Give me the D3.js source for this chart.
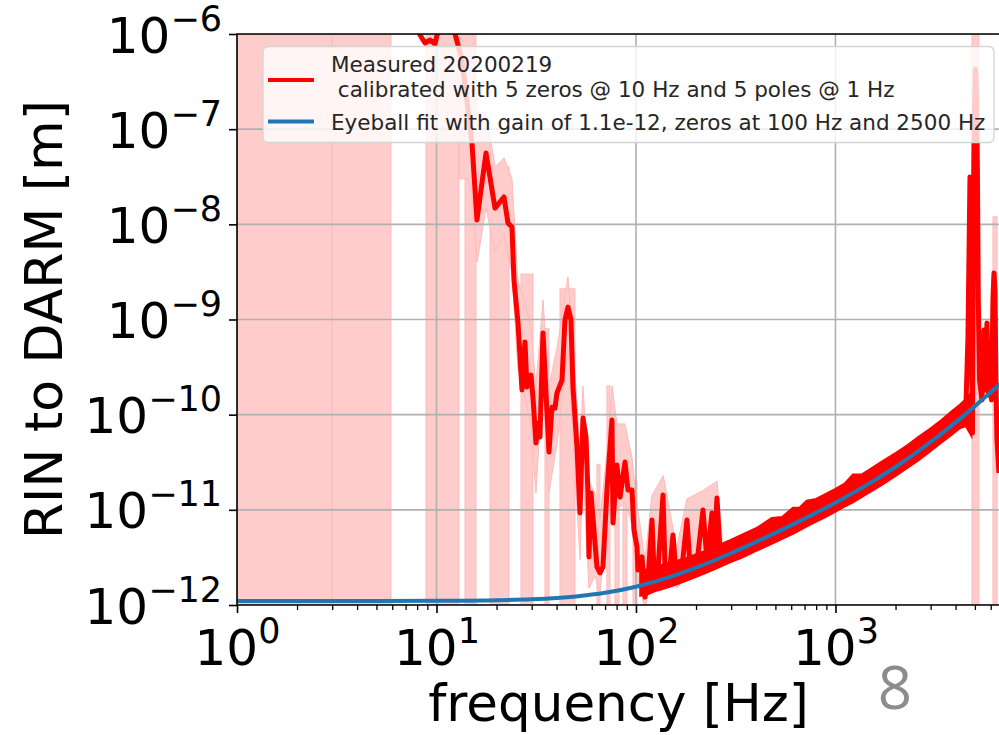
<!DOCTYPE html>
<html>
<head>
<meta charset="utf-8">
<script src="https://d3js.org/d3.v7.min.js"></script>
<style>
body { margin: 0; background: #fff; }
svg { display: block; font-family: "DejaVu Sans", sans-serif; }
</style>
</head>
<body>
<script>
// ---- values ----

// eyeball fit
var fitFreq = [1, 3, 5, 10, 20, 30, 50, 70, 100, 150, 200, 300, 500, 700, 1000, 1500, 2000, 3000, 4000, 5000, 6000, 6680];
var fitVal  = [1.10e-12, 1.10e-12, 1.10e-12, 1.106e-12, 1.122e-12, 1.148e-12, 1.23e-12, 1.343e-12, 1.556e-12, 1.983e-12,
               2.467e-12, 3.50e-12, 5.72e-12, 8.08e-12, 1.19e-11, 1.93e-11, 2.82e-11, 5.16e-11, 8.30e-11, 1.23e-10, 1.72e-10, 2.10e-10];

// measured trace
var measFreq = [7.71, 8.27, 8.76, 9.28, 9.83, 10.41, 11.69, 13.42, 14.38, 15.06, 15.96, 17.71, 19.65, 21.79, 22.83, 23.90,
  24.46, 25.62, 26.83, 27.77, 28.42, 29.76, 30.45, 31.53, 32.27, 33.02, 34.19, 35.81, 36.64, 37.93, 39.26, 40.18, 42.57,
  44.07, 45.62, 47.23, 48.33, 50.61, 52.39, 54.23, 56.16, 57.46, 58.13, 59.49, 62.30, 63.75, 66.0, 68.33, 71.54, 75.8,
  76.7, 80.3, 83.2, 88.1, 91.2, 95.5, 97.7, 101.2, 102.3, 107.2, 110.9, 114.9, 120.3, 123.1, 128.9, 136.6, 139.8, 148.1,
  153.3, 158.7, 170.1, 180.2, 186.5, 202.2, 216.7, 226.9, 240.4, 246.0, 254.7, 263.7, 300, 500, 700, 1000, 1500, 2000,
  2500, 3000, 3500, 4000, 4510, 4615, 4723, 4778, 4862, 4920, 4970, 5032, 5090, 5150, 5200, 5271, 5424, 5551, 5647, 5746,
  5846, 5948, 6053, 6158, 6230, 6302, 6375, 6449, 6599];
var measVal = [1.4e-6, 9.76e-7, 8.04e-7, 8.65e-7, 7.85e-7, 1.34e-6, 1.58e-6, 5.33e-7, 1.59e-7, 7.16e-8, 1.11e-8, 5.62e-8,
  1.48e-8, 1.94e-8, 1.03e-8, 9.38e-9, 2.60e-9, 9.19e-10, 1.82e-10, 5.80e-10, 1.95e-10, 2.61e-10, 1.53e-10, 5.04e-11,
  8.18e-11, 5.83e-11, 7.22e-10, 1.04e-10, 4.05e-11, 1.20e-10, 1.17e-10, 1.69e-10, 2.31e-10, 9.88e-10, 1.35e-9, 9.88e-10,
  1.95e-10, 4.57e-11, 9.27e-12, 9.23e-11, 5.83e-11, 1.50e-11, 3.20e-12, 1.50e-11, 4.48e-12, 2.51e-12, 2.17e-12, 2.51e-12,
  1.62e-11, 8.79e-11, 7.27e-12, 2.96e-11, 1.36e-11, 3.18e-11, 1.62e-11, 1.62e-11, 6.14e-12, 4.07e-12, 2.33e-12, 3.20e-12,
  1.21e-12, 1.83e-12, 7.82e-12, 2.33e-12, 2.33e-12, 1.43e-11, 2.51e-12, 2.51e-12, 5.44e-12, 2.17e-12, 2.51e-12, 7.82e-12,
  2.63e-12, 2.76e-12, 9.96e-12, 2.97e-12, 9.27e-12, 3.20e-12, 1.33e-11, 3.79e-12, 4.0e-12, 6.5e-12, 9.2e-12, 1.35e-11,
  2.2e-11, 3.2e-11, 4.4e-11, 5.8e-11, 7.5e-11, 9.4e-11, 1.26e-10, 6.55e-10, 3.14e-8, 1.60e-9, 6.42e-11, 2.0e-8, 1.6e-7,
  4.3e-7, 2.5e-7, 3.0e-8, 1.6e-9, 2.31e-10, 1.43e-10, 7.76e-10, 1.82e-10, 9.19e-10, 1.61e-10, 2.05e-10, 1.43e-10, 1.60e-9,
  3.08e-9, 2.04e-9, 2.31e-10, 5.42e-11, 2.44e-11];

// spread of the dense measured trace above ~100 Hz
var noiseFreq = [105, 115, 125, 140, 160, 185, 215, 250, 290, 340, 400, 479, 540, 612, 660, 717, 800, 900, 1000, 1110,
  1224, 1350, 1500, 1700, 2000, 2300, 2600, 3000, 3400, 3800, 4200, 4500, 4800];
var noiseHi = [2.2e-12, 2.4e-12, 2.5e-12, 2.7e-12, 2.9e-12, 3.2e-12, 3.6e-12, 4.1e-12, 4.7e-12, 5.5e-12, 6.4e-12, 8.2e-12,
  8.4e-12, 1.05e-11, 1.05e-11, 1.25e-11, 1.3e-11, 1.48e-11, 1.66e-11, 1.88e-11, 2.35e-11, 2.35e-11, 2.7e-11, 3.2e-11,
  3.95e-11, 4.8e-11, 5.8e-11, 7.2e-11, 8.8e-11, 1.07e-10, 1.27e-10, 1.45e-10, 1.7e-10];
var noiseLo = [1.25e-12, 1.3e-12, 1.4e-12, 1.5e-12, 1.65e-12, 1.85e-12, 2.1e-12, 2.4e-12, 2.75e-12, 3.15e-12, 3.7e-12,
  4.4e-12, 4.95e-12, 5.6e-12, 6.1e-12, 6.7e-12, 7.5e-12, 8.5e-12, 9.6e-12, 1.08e-11, 1.2e-11, 1.36e-11, 1.55e-11,
  1.82e-11, 2.27e-11, 2.77e-11, 3.3e-11, 4.15e-11, 5.1e-11, 6.1e-11, 7.2e-11, 7.6e-11, 6.0e-11];

// uncertainty band
var bandFreq = [13.0, 14.4, 15.1, 16.0, 17.7, 19.7, 21.8, 23.9, 25.6, 27.8, 29.8, 31.5, 34.2, 36.6, 40.2, 45.6, 48.3,
  52.4, 54.2, 58.1, 62.3, 66.0, 71.5, 75.8, 80.3, 88.1, 95.5, 101, 111, 120, 137, 160, 180, 217, 255, 270];
var bandHi = [1e-5, 1e-5, 3e-6, 1.5e-7, 1.5e-7, 4e-8, 5e-8, 3e-8, 2.5e-9, 1.5e-9, 8e-10, 2e-10, 1.6e-9, 2e-10, 5e-10,
  2.8e-9, 6e-10, 4e-11, 2e-10, 2e-11, 1.5e-11, 8e-12, 4e-11, 2e-10, 8e-11, 8e-11, 3.5e-11, 1.2e-11, 3e-12, 1.4e-11,
  2.3e-11, 4e-12, 1.3e-11, 1.6e-11, 2e-11, 5e-12];
var bandLo = [3e-8, 3e-8, 2e-8, 4e-9, 1.5e-8, 5e-9, 8e-9, 3e-9, 3e-10, 1.5e-10, 8e-11, 1.5e-11, 2.5e-10, 1.5e-11, 5e-11,
  5e-10, 6e-11, 3e-12, 3e-11, 1.5e-12, 2e-12, 1.4e-12, 6e-12, 3e-11, 1e-11, 1.2e-11, 7e-12, 2e-12, 9e-13, 2e-12, 2.5e-12,
  1.5e-12, 2e-12, 2.2e-12, 2.6e-12, 2.8e-12];

// bins where the lower bound drops to zero (band reaches the bottom)
var gapStart = [1, 3, 8.86, 13.9, 18.55, 26.52, 34.99, 41.6, 63.75, 71.5, 78.5, 86.1, 96.6, 4833, 6158];
var gapEnd   = [3, 5.91, 12.96, 15.78, 23.09, 30.45, 36.64, 49.45, 66.0, 74.1, 82.2, 90.1, 101.2, 5240, 6449];
var gapTop   = [1e-5, 1e-5, 1e-5, 1e-5, 4e-8, 3e-9, 8e-10, 2.1e-9, 3e-11, 2e-10, 6e-11, 5e-11, 2e-11, 1e-5, 1.2e-8];

var xTicks = [1, 10, 100, 1000];
var xTickExp = ["0", "1", "2", "3"];
var yTicks = [1e-6, 1e-7, 1e-8, 1e-9, 1e-10, 1e-11, 1e-12];
var yTickExp = ["\u22126", "\u22127", "\u22128", "\u22129", "\u221210", "\u221211", "\u221212"];
var legendLabels = ["Measured 20200219", " calibrated with 5 zeros @ 10 Hz and 5 poles @ 1 Hz",
                    "Eyeball fit with gain of 1.1e-12, zeros at 100 Hz and 2500 Hz"];

// ---- layout ----
var W = 999, H = 735;
var pL = 237, pR = 1000, pT = 34, pB = 605;

var x = d3.scaleLog().domain([1, 6680]).range([pL, pR]);
var y = d3.scaleLog().domain([1e-12, 1e-6]).range([pB, pT]);

var svg = d3.select("body").append("svg").attr("width", W).attr("height", H);

svg.append("clipPath").attr("id", "plot")
  .append("rect").attr("x", pL).attr("y", pT).attr("width", pR - pL).attr("height", pB - pT);

var g = svg.append("g").attr("clip-path", "url(#plot)");
var pink = "#ffcccc", pinkEdge = "#ffbaba";

function yc(v) { return Math.max(pT - 20, Math.min(pB + 20, y(v))); }

// full-depth bins
g.append("g").selectAll("rect")
  .data(gapStart.map(function(d, i) { return {f0: d, f1: gapEnd[i], t: gapTop[i]}; }))
  .enter().append("rect")
    .attr("x", function(d) { return x(d.f0); })
    .attr("width", function(d) { return x(d.f1) - x(d.f0); })
    .attr("y", function(d) { return yc(d.t); })
    .attr("height", function(d) { return pB + 20 - yc(d.t); })
    .attr("fill", pink).attr("stroke", pinkEdge).attr("stroke-width", 1);

// band around the trace
var band = bandFreq.map(function(d, i) { return {f: d, hi: bandHi[i], lo: bandLo[i]}; });
g.append("path")
  .attr("d", d3.area()
    .x(function(d) { return x(d.f); })
    .y0(function(d) { return yc(d.lo); })
    .y1(function(d) { return yc(d.hi); })(band))
  .attr("fill", pink).attr("stroke", pinkEdge).attr("stroke-width", 1);

// grid
g.append("g").selectAll("line").data(xTicks).enter().append("line")
  .attr("x1", x).attr("x2", x).attr("y1", pT).attr("y2", pB)
  .attr("stroke", "#b0b0b0").attr("stroke-width", 1.6);
g.append("g").selectAll("line").data(yTicks).enter().append("line")
  .attr("y1", y).attr("y2", y).attr("x1", pL).attr("x2", pR)
  .attr("stroke", "#b0b0b0").attr("stroke-width", 1.6);

// measured
var noise = noiseFreq.map(function(d, i) { return {f: d, hi: noiseHi[i], lo: noiseLo[i]}; });
g.append("path")
  .attr("d", d3.area()
    .x(function(d) { return x(d.f); })
    .y0(function(d) { return y(d.lo); })
    .y1(function(d) { return y(d.hi); })(noise))
  .attr("fill", "#ff0000").attr("stroke", "#ff0000").attr("stroke-width", 2);

var meas = measFreq.map(function(d, i) { return [x(d), yc(measVal[i])]; });
g.append("path")
  .attr("d", d3.line()(meas))
  .attr("fill", "none").attr("stroke", "#ff0000")
  .attr("stroke-width", 5).attr("stroke-linejoin", "round");

// fit
var fit = fitFreq.map(function(d, i) { return [x(d), y(fitVal[i])]; });
g.append("path")
  .attr("d", d3.line().curve(d3.curveMonotoneX)(fit))
  .attr("fill", "none").attr("stroke", "#1f77b4").attr("stroke-width", 4);

// spines
svg.append("path")
  .attr("d", "M" + pL + "," + pB + "V" + pT + "H" + (pR + 5) + "M" + pL + "," + pB + "H" + (pR + 5))
  .attr("fill", "none").attr("stroke", "#000").attr("stroke-width", 1.6);

// x axis
var minor = x.ticks().filter(function(d) { return xTicks.indexOf(d) < 0; });
svg.append("g").attr("transform", "translate(0," + pB + ")")
  .call(d3.axisBottom(x).tickValues(minor).tickSize(5).tickFormat(""))
  .call(function(a) { a.select(".domain").remove(); a.selectAll("line").attr("stroke-width", 1.3); });

var xa = svg.append("g").attr("transform", "translate(0," + pB + ")")
  .call(d3.axisBottom(x).tickValues(xTicks).tickSize(8).tickFormat(""));
xa.select(".domain").remove();
xa.selectAll("line").attr("stroke-width", 1.6);
xa.selectAll(".tick text").each(function(d, i) {
  var t = d3.select(this).attr("y", 60).attr("dy", null)
    .attr("font-size", 50).attr("fill", "#000").attr("font-family", "DejaVu Sans");
  t.text("10");
  t.append("tspan").attr("dy", -22).attr("font-size", 35).text(xTickExp[i]);
});

// y axis
var ya = svg.append("g").attr("transform", "translate(" + pL + ",0)")
  .call(d3.axisLeft(y).tickValues(yTicks).tickSize(8).tickPadding(7).tickFormat(""));
ya.select(".domain").remove();
ya.selectAll("line").attr("stroke-width", 1.6);
ya.selectAll(".tick text").each(function(d, i) {
  var t = d3.select(this).attr("dy", 18)
    .attr("font-size", 50).attr("fill", "#000").attr("font-family", "DejaVu Sans");
  t.text("10");
  t.append("tspan").attr("dy", -22).attr("font-size", 35).text(yTickExp[i]);
});

// axis labels
svg.append("text")
  .attr("x", (pL + pR) / 2).attr("y", 721)
  .attr("text-anchor", "middle").attr("font-size", 51.5)
  .text("frequency [Hz]");
svg.append("text")
  .attr("transform", "translate(62," + ((pT + pB) / 2) + ") rotate(-90)")
  .attr("text-anchor", "middle").attr("font-size", 52)
  .text("RIN to DARM [m]");

// legend
var lg = svg.append("g");
lg.append("rect")
  .attr("x", 263).attr("y", 46.5).attr("width", 731).attr("height", 96).attr("rx", 5)
  .attr("fill", "#fff").attr("fill-opacity", 0.8)
  .attr("stroke", "#d4d4d4").attr("stroke-width", 1.3);
lg.append("line").attr("x1", 268).attr("x2", 314).attr("y1", 80).attr("y2", 80)
  .attr("stroke", "#ff0000").attr("stroke-width", 4);
lg.append("line").attr("x1", 268).attr("x2", 314).attr("y1", 121.5).attr("y2", 121.5)
  .attr("stroke", "#1f77b4").attr("stroke-width", 4);
lg.selectAll("text.lab").data(legendLabels).enter().append("text")
  .attr("class", "lab")
  .attr("x", 331)
  .attr("y", function(d, i) { return [72, 97, 130][i]; })
  .attr("font-size", 21.5).attr("fill", "#262626")
  .style("white-space", "pre")
  .text(function(d) { return d; });

// slide number
svg.append("text")
  .attr("x", 895).attr("y", 709).attr("text-anchor", "middle")
  .attr("font-family", "Open Sans").attr("font-size", 60).attr("fill", "#8c8c8c")
  .text("8");
</script>
</body>
</html>
